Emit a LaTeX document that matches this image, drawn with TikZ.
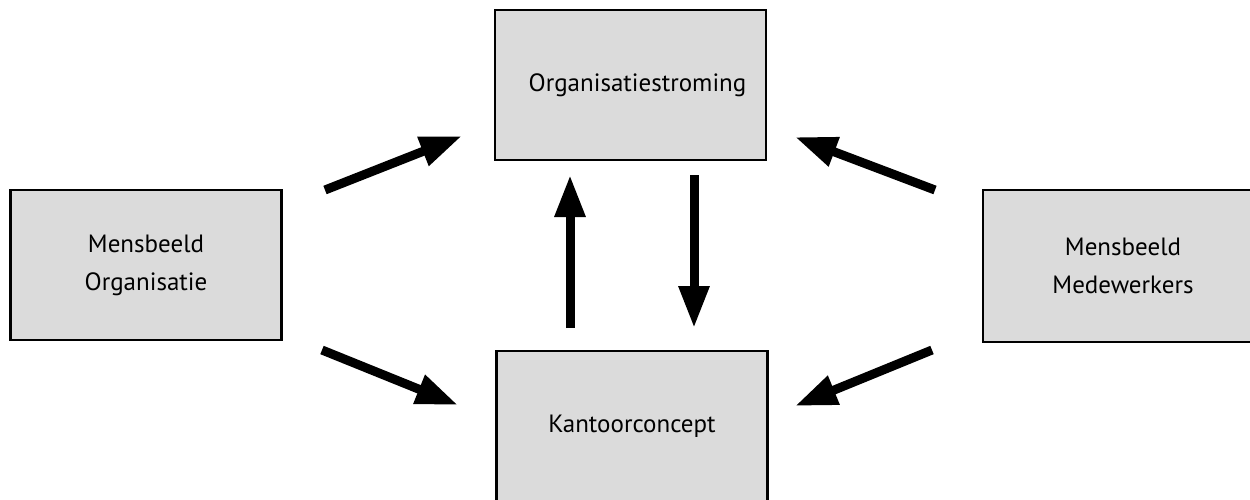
\documentclass[tikz,border=0pt]{standalone}
\usepackage{fontspec}
\setmainfont{PT Sans}
\usetikzlibrary{arrows.meta}
\begin{document}
\begin{tikzpicture}[x=1pt,y=-1pt,
  box/.style={draw=black, line width=2.8pt, fill=black!14, inner sep=0pt,
    minimum width=271pt, minimum height=150pt, align=center,
    font=\fontsize{25}{38}\selectfont},
  flow/.style={line width=9pt, -{Triangle[length=42pt,width=29pt]}}]
\useasboundingbox (0,0) rectangle (1250,499);
% the four concepts
\node[box] (org) at (630.5,85) {\hspace*{14pt}Organisatiestroming};
\node[box] (kant) at (632,426) {Kantoorconcept};
\node[box] (mo) at (146,265) {Mensbeeld\\Organisatie};
\node[box, minimum width=280pt, minimum height=152pt] (mm) at (1123,266) {Mensbeeld\\Medewerkers};
% arrow end points between the boxes
\coordinate (a1s) at (325,190); \coordinate (a1e) at (462,136);
\coordinate (a2s) at (322,350); \coordinate (a2e) at (458,405);
\coordinate (a3s) at (570,328); \coordinate (a3e) at (570,175);
\coordinate (a4s) at (694,175); \coordinate (a4e) at (694,328);
\coordinate (a5s) at (935,190); \coordinate (a5e) at (795,137);
\coordinate (a6s) at (932,350); \coordinate (a6e) at (795,406);
\draw[flow] (a1s) -- (a1e);
\draw[flow] (a2s) -- (a2e);
\draw[flow] (a3s) -- (a3e);
\draw[flow] (a4s) -- (a4e);
\draw[flow] (a5s) -- (a5e);
\draw[flow] (a6s) -- (a6e);
\end{tikzpicture}
\end{document}
